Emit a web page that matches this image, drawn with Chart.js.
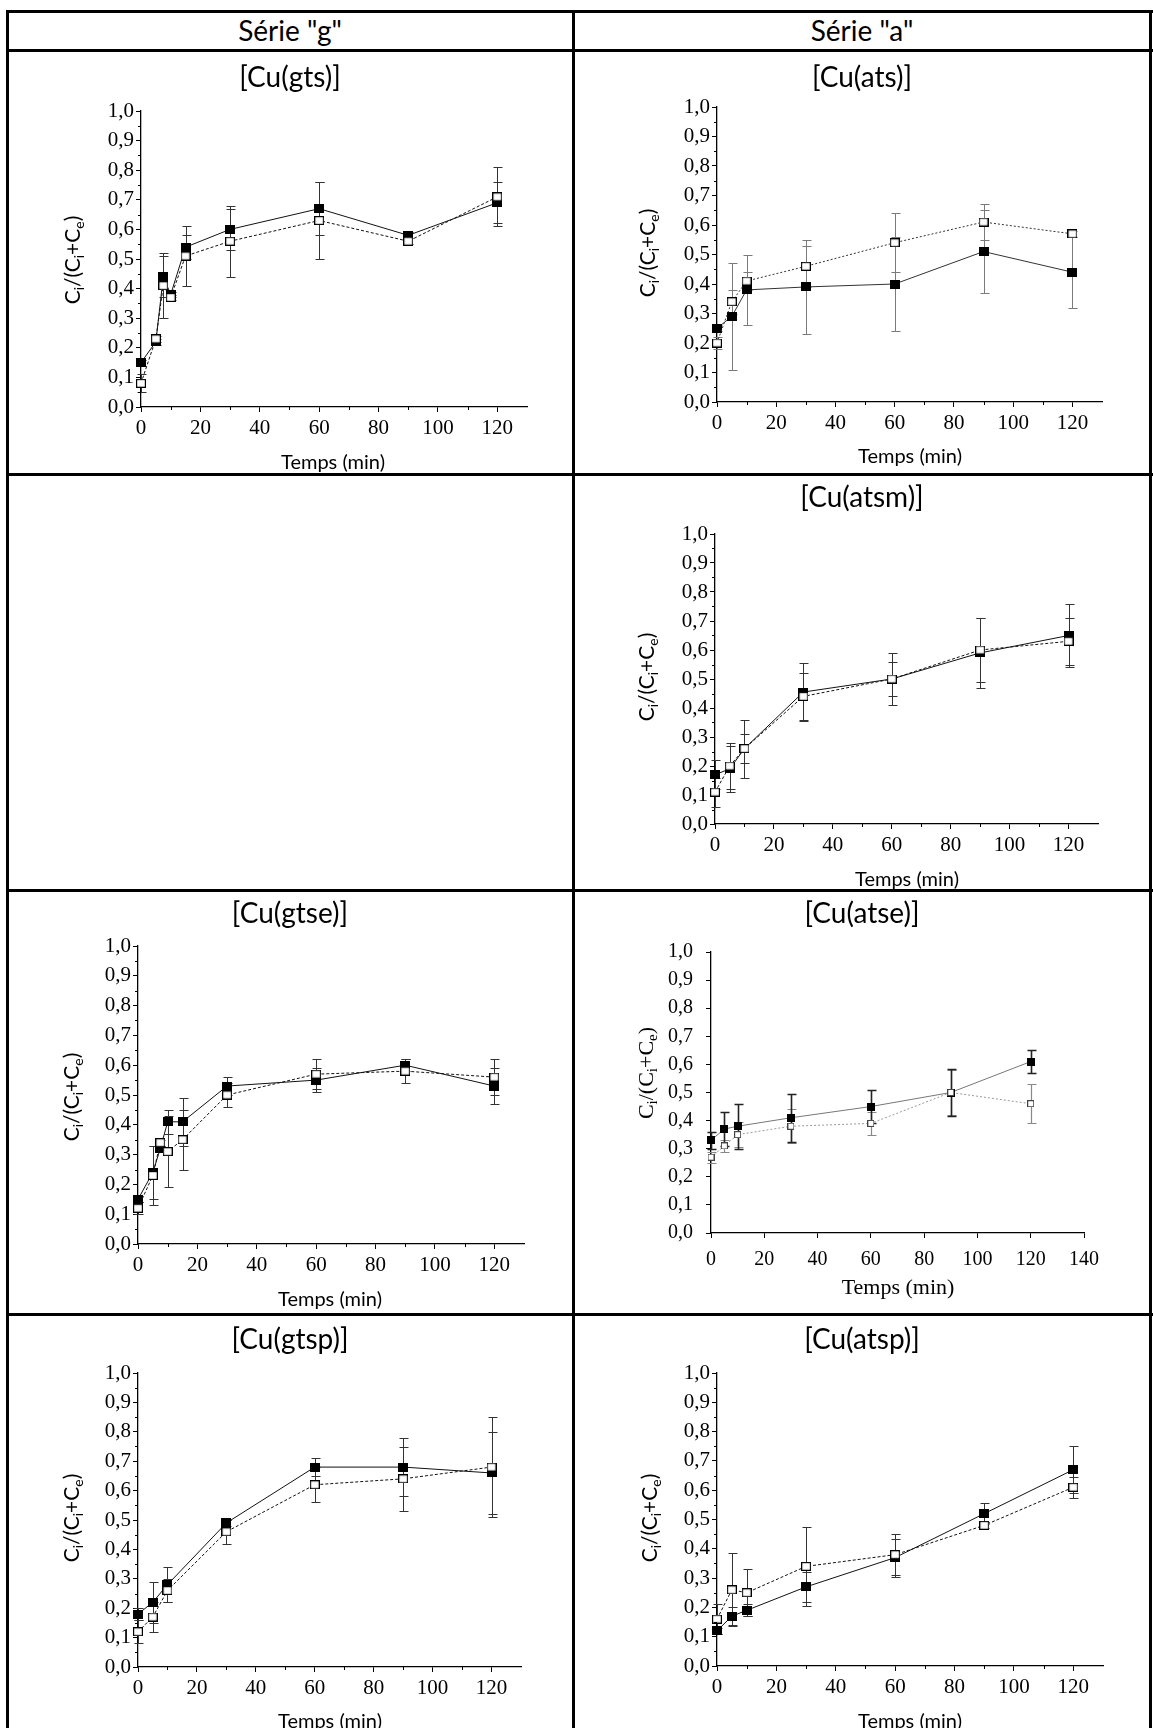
<!DOCTYPE html>
<html>
<head>
<meta charset="utf-8">
<title>Cinétique de libération – complexes de cuivre</title>
<script src="https://cdn.jsdelivr.net/npm/chart.js@4.4.1/dist/chart.umd.min.js"></script>
<style>
  html, body { margin: 0; padding: 0; background: #fff; overflow: hidden; }
  #page { position: relative; width: 1153px; height: 1728px; overflow: hidden; background: #fff; }
  .hl { position: absolute; height: 3px; background: #000; }
  .vl { position: absolute; width: 3px; background: #000; }
  .cap { position: absolute; text-align: center; font-family: Lato, "Open Sans", sans-serif; color: #000; white-space: nowrap; }
  canvas { position: absolute; }
</style>
</head>
<body>
<div id="page"></div>
<script>
// ---- axis ticks ----
const yTicks = [0, 0.1, 0.2, 0.3, 0.4, 0.5, 0.6, 0.7, 0.8, 0.9, 1.0];
const xTicksTo120 = [0, 20, 40, 60, 80, 100, 120];
const xTicksTo140 = [0, 20, 40, 60, 80, 100, 120, 140];

// ---- [Cu(gts)] ----
const gtsTime = [0, 5, 7.5, 10, 15, 30, 60, 90, 120];
const gtsFilled = [0.15, 0.22, 0.44, 0.38, 0.54, 0.60, 0.67, 0.58, 0.69];
const gtsFilledErr = [0.01, 0.01, 0.07, 0.01, 0.04, 0.07, 0.09, 0.01, 0.07];
const gtsOpen = [0.08, 0.23, 0.41, 0.37, 0.51, 0.56, 0.63, 0.56, 0.71];
const gtsOpenErr = [0.03, 0.01, 0.11, 0.01, 0.10, 0.12, 0.13, 0.01, 0.10];

// ---- [Cu(ats)] ----
const atsTime = [0, 5, 10, 30, 60, 90, 120];
const atsFilled = [0.25, 0.29, 0.38, 0.39, 0.40, 0.51, 0.44];
const atsFilledErr = [0.01, 0.18, 0.12, 0.16, 0.16, 0.14, 0.12];
const atsOpen = [0.20, 0.34, 0.41, 0.46, 0.54, 0.61, 0.57];
const atsOpenErr = [0.02, 0.04, 0.03, 0.07, 0.10, 0.06, 0.01];

// ---- [Cu(atsm)] ----
const atsmTime = [0, 5, 10, 30, 60, 90, 120];
const atsmFilled = [0.17, 0.19, 0.26, 0.455, 0.50, 0.59, 0.65];
const atsmFilledErr = [0.05, 0.08, 0.10, 0.10, 0.09, 0.12, 0.11];
const atsmOpen = [0.11, 0.20, 0.26, 0.44, 0.50, 0.60, 0.63];
const atsmOpenErr = [0.05, 0.08, 0.05, 0.08, 0.06, 0.11, 0.08];

// ---- [Cu(gtse)] ----
const gtseTime = [0, 5, 7.5, 10, 15, 30, 60, 90, 120];
const gtseFilled = [0.15, 0.24, 0.32, 0.41, 0.41, 0.53, 0.55, 0.60, 0.53];
const gtseFilledErr = [0.01, 0.09, 0.01, 0.04, 0.08, 0.03, 0.04, 0.02, 0.06];
const gtseOpen = [0.12, 0.23, 0.34, 0.31, 0.35, 0.50, 0.57, 0.58, 0.56];
const gtseOpenErr = [0.02, 0.10, 0.01, 0.12, 0.10, 0.04, 0.05, 0.04, 0.06];

// ---- [Cu(atse)] ----
const atseTime = [0, 5, 10, 30, 60, 90, 120];
const atseFilled = [0.33, 0.37, 0.38, 0.41, 0.45, 0.50, 0.61];
const atseFilledErr = [0.03, 0.06, 0.08, 0.085, 0.06, 0.085, 0.04];
const atseOpen = [0.27, 0.31, 0.35, 0.38, 0.39, 0.50, 0.46];
const atseOpenErr = [0.02, 0.02, 0.045, 0.06, 0.04, 0.08, 0.07];

// ---- [Cu(gtsp)] ----
const gtspTime = [0, 5, 10, 30, 60, 90, 120];
const gtspFilled = [0.18, 0.22, 0.28, 0.49, 0.68, 0.68, 0.66];
const gtspFilledErr = [0.02, 0.07, 0.06, 0.01, 0.03, 0.10, 0.14];
const gtspOpen = [0.12, 0.17, 0.26, 0.46, 0.62, 0.64, 0.68];
const gtspOpenErr = [0.04, 0.05, 0.04, 0.04, 0.06, 0.11, 0.17];

// ---- [Cu(atsp)] ----
const atspTime = [0, 5, 10, 30, 60, 90, 120];
const atspFilled = [0.12, 0.17, 0.19, 0.27, 0.37, 0.52, 0.67];
const atspFilledErr = [0.01, 0.03, 0.02, 0.05, 0.065, 0.035, 0.08];
const atspOpen = [0.16, 0.26, 0.25, 0.34, 0.38, 0.48, 0.61];
const atspOpenErr = [0.05, 0.125, 0.08, 0.135, 0.07, 0.01, 0.035];

// ---- text ----
const seriesHeads = ['Série "g"', 'Série "a"'];
const xAxisTitle = 'Temps (min)';
const yAxisParts = [['C', 0], ['i', 1], ['/(C', 0], ['i', 1], ['+C', 0], ['e', 1], [')', 0]];

// ---------------------------------------------------------------
const page = document.getElementById('page');
const SERIF = '"Liberation Serif", "Times New Roman", serif';
const SANS = 'Lato, "Open Sans", sans-serif';

// table rules
const rowLines = [11, 50, 474, 890, 1314];
const colLines = [7, 573, 1150];
rowLines.forEach(y => {
  const d = document.createElement('div');
  d.className = 'hl';
  d.style.left = '6px'; d.style.width = '1147px'; d.style.top = (y - 1) + 'px';
  page.appendChild(d);
});
colLines.forEach(x => {
  const d = document.createElement('div');
  d.className = 'vl';
  d.style.left = (x - 1) + 'px'; d.style.top = '10px'; d.style.height = '1718px';
  page.appendChild(d);
});

function caption(text, cx, cy, size) {
  const d = document.createElement('div');
  d.className = 'cap';
  d.textContent = text;
  d.style.left = (cx - 200) + 'px';
  d.style.width = '400px';
  d.style.top = (cy - 20) + 'px';
  d.style.height = '40px';
  d.style.lineHeight = '40px';
  d.style.fontSize = size + 'px';
  page.appendChild(d);
}
caption(seriesHeads[0], 290, 30, 28);
caption(seriesHeads[1], 862, 30, 28);

// square markers as small canvases
function marker(w, h, fill, stroke, lw) {
  const c = document.createElement('canvas');
  c.width = w; c.height = h;
  const g = c.getContext('2d');
  if (fill) { g.fillStyle = fill; g.fillRect(0, 0, w, h); }
  if (stroke) { g.strokeStyle = stroke; g.lineWidth = lw; g.strokeRect(lw / 2, lw / 2, w - lw, h - lw); }
  return c;
}

const looks = {
  origin: {
    tickSize: 21, tickFont: SERIF, xPad: 4, yPad: 2, tl: 5, minor: true,
    xTitleFont: '20px ' + SANS, yFont: 21, ySub: 14, yFam: SANS, ySubDrop: 6,
    filledMarker: marker(10, 9, '#000', null, 0), openMarker: marker(10, 9, '#fff', '#000', 1.2),
    filledLine: '#111', openLine: '#111', openDash: [3, 2],
    filledErr: '#333', openErr: '#333', filledErrW: 1, openErrW: 1, cap: 4
  },
  grey: {
    tickSize: 21, tickFont: SERIF, xPad: 4, yPad: 2, tl: 5, minor: true,
    xTitleFont: '20px ' + SANS, yFont: 21, ySub: 14, yFam: SANS, ySubDrop: 6,
    filledMarker: marker(10, 9, '#000', null, 0), openMarker: marker(10, 9, '#fff', '#000', 1.2),
    filledLine: '#333', openLine: '#333', openDash: [2, 2],
    filledErr: '#7a7a7a', openErr: '#7a7a7a', filledErrW: 1, openErrW: 1, cap: 4
  },
  plain: {
    tickSize: 20, tickFont: SERIF, xPad: 10, yPad: 13, tl: 5, minor: false,
    xTitleFont: '22px ' + SERIF, yFont: 22, ySub: 15, yFam: SERIF, ySubDrop: 6,
    filledMarker: marker(8, 8, '#000', null, 0), openMarker: marker(7, 7, '#fff', '#444', 1),
    filledLine: '#777', openLine: '#999', openDash: [2, 2],
    filledErr: '#222', openErr: '#888', filledErrW: 1.6, openErrW: 1.2, cap: 4
  }
};

// error bars under lines and markers
const errorBars = {
  id: 'errorBars',
  beforeDatasetsDraw(chart) {
    const { ctx, scales: { x, y } } = chart;
    chart.data.datasets.forEach(ds => {
      if (!ds.errors) return;
      ctx.save();
      ctx.strokeStyle = ds.errorColor;
      ctx.lineWidth = ds.errorWidth;
      ds.data.forEach((p, i) => {
        const e = ds.errors[i];
        if (!e) return;
        const px = Math.round(x.getPixelForValue(p.x)) + 0.5;
        const yt = Math.round(y.getPixelForValue(p.y + e)) + 0.5;
        const yb = Math.round(y.getPixelForValue(p.y - e)) + 0.5;
        const c = ds.errorCap;
        ctx.beginPath();
        ctx.moveTo(px, yt); ctx.lineTo(px, yb);
        ctx.moveTo(px - c, yt); ctx.lineTo(px + c + 1, yt);
        ctx.moveTo(px - c, yb); ctx.lineTo(px + c + 1, yb);
        ctx.stroke();
      });
      ctx.restore();
    });
  }
};

// half-step ticks between the labelled ones
const minorTicks = {
  id: 'minorTicks',
  afterDraw(chart, args, opts) {
    if (!opts || !opts.show) return;
    const { ctx, scales: { x, y }, chartArea } = chart;
    ctx.save();
    ctx.strokeStyle = '#000';
    ctx.lineWidth = 1;
    ctx.beginPath();
    for (let v = opts.xStep; v < x.max; v += 2 * opts.xStep) {
      const px = Math.round(x.getPixelForValue(v)) + 0.5;
      ctx.moveTo(px, chartArea.bottom);
      ctx.lineTo(px, chartArea.bottom + opts.len);
    }
    for (let k = 0; k < 10; k++) {
      const py = Math.round(y.getPixelForValue(0.05 + 0.1 * k)) + 0.5;
      ctx.moveTo(chartArea.left - opts.len, py);
      ctx.lineTo(chartArea.left, py);
    }
    ctx.stroke();
    ctx.restore();
  }
};

// axis titles, the vertical one with subscripts
const axisTitles = {
  id: 'axisTitles',
  afterDraw(chart, args, o) {
    if (!o || !o.xText) return;
    const ctx = chart.ctx;
    ctx.save();
    ctx.fillStyle = '#000';
    ctx.font = o.xFont;
    ctx.textAlign = 'center';
    ctx.textBaseline = 'middle';
    ctx.fillText(o.xText, o.xPos[0], o.xPos[1]);

    const big = o.yFont + 'px ' + o.yFam;
    const small = o.ySub + 'px ' + o.yFam;
    let total = 0;
    o.yParts.forEach(([t, sub]) => { ctx.font = sub ? small : big; total += ctx.measureText(t).width; });
    ctx.translate(o.yPos[0], o.yPos[1]);
    ctx.rotate(-Math.PI / 2);
    ctx.textAlign = 'left';
    ctx.textBaseline = 'middle';
    let cx = -total / 2;
    o.yParts.forEach(([t, sub]) => {
      ctx.font = sub ? small : big;
      ctx.fillText(t, cx, sub ? o.yDrop : 0);
      cx += ctx.measureText(t).width;
    });
    ctx.restore();
  }
};

const PADL = 110, PADT = 20, PADR = 26, PADB = 70;

function buildChart(spec) {
  const L = looks[spec.look];
  const a = spec.area;
  const left = a.left - PADL, top = a.top - PADT;
  const W = a.right - a.left + PADL + PADR;
  const H = a.bottom - a.top + PADT + PADB;
  const cv = document.createElement('canvas');
  cv.width = W; cv.height = H;
  cv.style.left = left + 'px'; cv.style.top = top + 'px';
  cv.style.width = W + 'px'; cv.style.height = H + 'px';
  page.appendChild(cv);

  caption(spec.name, spec.head[0], spec.head[1], 28);

  const pts = vals => spec.time.map((t, i) => ({ x: t, y: vals[i] }));

  new Chart(cv, {
    type: 'scatter',
    data: {
      datasets: [
        {
          data: pts(spec.open), errors: spec.openErr,
          errorColor: L.openErr, errorWidth: L.openErrW, errorCap: L.cap,
          showLine: true, borderColor: L.openLine, borderWidth: 1, borderDash: L.openDash,
          pointStyle: L.openMarker, pointRadius: 4, pointHoverRadius: 4,
          backgroundColor: '#fff', tension: 0, clip: false, order: 0
        },
        {
          data: pts(spec.filled), errors: spec.filledErr,
          errorColor: L.filledErr, errorWidth: L.filledErrW, errorCap: L.cap,
          showLine: true, borderColor: L.filledLine, borderWidth: 1,
          pointStyle: L.filledMarker, pointRadius: 4, pointHoverRadius: 4,
          backgroundColor: '#000', tension: 0, clip: false, order: 1
        }
      ]
    },
    options: {
      responsive: false,
      animation: false,
      events: [],
      layout: { padding: { left: 0, top: PADT, right: PADR, bottom: 0 } },
      plugins: {
        legend: { display: false },
        tooltip: { enabled: false },
        minorTicks: { show: L.minor, xStep: 10, len: 3 },
        axisTitles: {
          xText: xAxisTitle, xFont: L.xTitleFont,
          xPos: [spec.xTitle[0] - left, spec.xTitle[1] - top],
          yParts: yAxisParts, yFont: L.yFont, ySub: L.ySub, yFam: L.yFam, yDrop: L.ySubDrop,
          yPos: [spec.yTitle[0] - left, spec.yTitle[1] - top]
        }
      },
      scales: {
        x: {
          type: 'linear', position: 'bottom', min: 0, max: spec.xMax,
          afterBuildTicks: s => { s.ticks = spec.xTicks.map(v => ({ value: v })); },
          afterFit: s => { s.height = PADB; },
          ticks: {
            stepSize: 10, autoSkip: false, maxRotation: 0, minRotation: 0,
            padding: L.xPad, color: '#000',
            font: { family: L.tickFont, size: L.tickSize },
            callback: v => String(v)
          },
          grid: { display: true, drawOnChartArea: false, drawTicks: true, tickLength: L.tl, tickColor: '#000', tickWidth: 1, color: '#000' },
          border: { display: true, color: '#000', width: 1.3 }
        },
        y: {
          type: 'linear', position: 'left', min: 0, max: 1,
          afterBuildTicks: s => { s.ticks = yTicks.map(v => ({ value: v })); },
          afterFit: s => { s.width = PADL; },
          ticks: {
            stepSize: 0.1, autoSkip: false,
            padding: L.yPad, color: '#000',
            font: { family: L.tickFont, size: L.tickSize },
            callback: v => v.toFixed(1).replace('.', ',')
          },
          grid: { display: true, drawOnChartArea: false, drawTicks: true, tickLength: L.tl, tickColor: '#000', tickWidth: 1, color: '#000' },
          border: { display: true, color: '#000', width: 1.3 }
        }
      }
    },
    plugins: [errorBars, minorTicks, axisTitles]
  });
}

const panels = [
  { name: '[Cu(gts)]', head: [290, 76], look: 'origin', area: { left: 141, top: 111, right: 527, bottom: 407 }, xMax: 130, xTicks: xTicksTo120,
    time: gtsTime, filled: gtsFilled, filledErr: gtsFilledErr, open: gtsOpen, openErr: gtsOpenErr, xTitle: [333, 463], yTitle: [73, 260] },
  { name: '[Cu(ats)]', head: [862, 76], look: 'grey', area: { left: 717, top: 107, right: 1102, bottom: 402 }, xMax: 130, xTicks: xTicksTo120,
    time: atsTime, filled: atsFilled, filledErr: atsFilledErr, open: atsOpen, openErr: atsOpenErr, xTitle: [910, 457], yTitle: [648, 253] },
  { name: '[Cu(atsm)]', head: [862, 496], look: 'origin', area: { left: 715, top: 534, right: 1098, bottom: 824 }, xMax: 130, xTicks: xTicksTo120,
    time: atsmTime, filled: atsmFilled, filledErr: atsmFilledErr, open: atsmOpen, openErr: atsmOpenErr, xTitle: [907, 880], yTitle: [647, 677] },
  { name: '[Cu(gtse)]', head: [290, 912], look: 'origin', area: { left: 138, top: 946, right: 524, bottom: 1244 }, xMax: 130, xTicks: xTicksTo120,
    time: gtseTime, filled: gtseFilled, filledErr: gtseFilledErr, open: gtseOpen, openErr: gtseOpenErr, xTitle: [330, 1300], yTitle: [72, 1097] },
  { name: '[Cu(atse)]', head: [862, 912], look: 'plain', area: { left: 711, top: 947, right: 1084, bottom: 1233 }, xMax: 140, xTicks: xTicksTo140,
    time: atseTime, filled: atseFilled, filledErr: atseFilledErr, open: atseOpen, openErr: atseOpenErr, xTitle: [898, 1288], yTitle: [647, 1073] },
  { name: '[Cu(gtsp)]', head: [290, 1338], look: 'origin', area: { left: 138, top: 1373, right: 521, bottom: 1667 }, xMax: 130, xTicks: xTicksTo120,
    time: gtspTime, filled: gtspFilled, filledErr: gtspFilledErr, open: gtspOpen, openErr: gtspOpenErr, xTitle: [330, 1722], yTitle: [72, 1518] },
  { name: '[Cu(atsp)]', head: [862, 1338], look: 'origin', area: { left: 717, top: 1373, right: 1103, bottom: 1666 }, xMax: 130, xTicks: xTicksTo120,
    time: atspTime, filled: atspFilled, filledErr: atspFilledErr, open: atspOpen, openErr: atspOpenErr, xTitle: [910, 1722], yTitle: [650, 1518] }
];

panels.forEach(buildChart);
</script>
</body>
</html>
